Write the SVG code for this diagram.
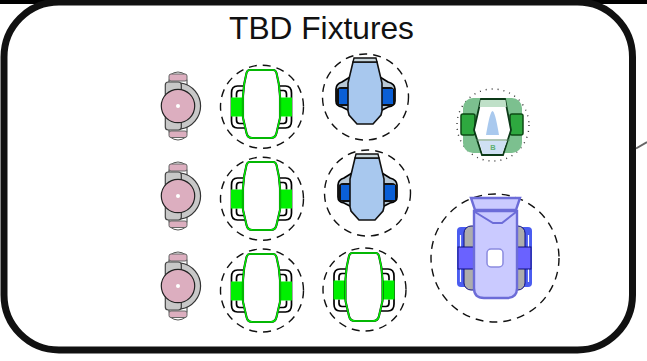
<svg xmlns="http://www.w3.org/2000/svg" width="647" height="361" viewBox="0 0 647 361">
<style>
text{font-family:"Liberation Sans",Arial,sans-serif;font-size:31.700px;fill:#111}
.d{fill:none;stroke:#111;stroke-width:1.4;stroke-dasharray:8 6}
.k{stroke:#000;stroke-width:1.700}
</style>
<defs>
<path id="gbody" d="M-12-34H12Q14-34 15-31Q18-20 18.500-8V14L15 29Q14 34 9 34H-9Q-14 34-15 29L-18.500 14V-8Q-18-20-15-31Q-14-34-12-34Z"/>
<g id="pink">
<path d="M-8-31Q0-37 8-31M-8 31Q0 37 8 31" fill="#fff" stroke="#555" stroke-width="1"/>
<rect x="-9" y="-26" width="18" height="52" fill="#fff" stroke="#333" stroke-width="1"/>
<rect x="-9" y="-32" width="18" height="7" rx="2" fill="#dcaebf" stroke="#666" stroke-width="1"/>
<rect x="-9" y="25" width="18" height="6.500" rx="2" fill="#dcaebf" stroke="#666" stroke-width="1"/>
<path d="M3-23A23.300 23.300 0 0 1 3 23Z" fill="#c8c8c8" stroke="#333" stroke-width="1.200"/>
<rect x="-12.700" y="-24" width="16" height="48" rx="3" fill="#c8c8c8" stroke="#444" stroke-width="1.200"/>
<circle r="16.700" fill="#dcaebf" stroke="#222" stroke-width="1.200"/>
<circle r="2" fill="#fff"/>
</g>
<g id="green">
<path d="M-17-18H-24Q-30-18-30-11V17Q-30 24-24 24H-14V-18Z" fill="#fff" class="k"/>
<path d="M17-18H24Q30-18 30-11V17Q30 24 24 24H14V-18Z" fill="#fff" class="k"/>
<path d="M-16-13.500H-22Q-25-13.500-25-10V-6.500M-25 12.500V16Q-25 19.500-22 19.500H-16" fill="none" class="k"/>
<path d="M16-13.500H22Q25-13.500 25-10V-6.500M25 12.500V16Q25 19.500 22 19.500H16" fill="none" class="k"/>
<rect x="-30.500" y="-6.500" width="61" height="19" fill="#00f000"/>
<use href="#gbody" fill="#fff" stroke="#111" stroke-width="2.100"/>
<use href="#gbody" fill="none" stroke="#00ee00" stroke-width="1.500"/>
</g>
<g id="blue">
<path d="M-23-15L-15-20V14L-23 10Q-29 9-29 4V-8Q-29-13-23-15Z" fill="#b9c9d6" class="k"/>
<path d="M23-15L15-20V14L23 10Q30 9 30 4V-8Q30-13 23-15Z" fill="#b9c9d6" class="k"/>
<rect x="-29" y="-10" width="59" height="19" rx="5" fill="#111"/>
<rect x="-26" y="-8" width="54" height="15" fill="#0a5fd6"/>
<path d="M-12-35H12L17-14V14L16 18L8 27H-8L-16 18L-17 14V-14Z" fill="#a8c8ee" stroke="#111" stroke-width="1.600"/>
<path d="M-12-35L-11-39H11L12-35Z" fill="#c8d6dc" stroke="#111" stroke-width="1.400"/>
</g>
</defs>
<g id="frame"><rect x="-30" y="-4" width="720" height="8" fill="#000"/><rect x="4" y="2" width="628.500" height="348" rx="55" ry="55" fill="#fff" stroke="#111" stroke-width="7"/></g>
<g id="connectors"><path d="M636 148.500L647 142" fill="none" stroke="#666" stroke-width="2"/></g>
<text id="title" x="321.500" y="38.500" text-anchor="middle">TBD Fixtures</text>
<g id="pink1"><use href="#pink" x="178" y="106"/></g>
<g id="pink2"><use href="#pink" x="178" y="196"/></g>
<g id="pink3"><use href="#pink" x="178" y="286"/></g>
<g id="green1"><circle class="d" cx="262" cy="106.700" r="41.500"/><use href="#green" x="261.500" y="104"/></g>
<g id="green2"><circle class="d" cx="262" cy="198.700" r="41.500"/><use href="#green" x="261.500" y="196"/></g>
<g id="green3"><circle class="d" cx="262" cy="290.500" r="41.500"/><use href="#green" x="261.500" y="288"/></g>
<g id="blue1"><circle class="d" cx="365.500" cy="97" r="43"/><use href="#blue" x="365" y="97"/></g>
<g id="blue2"><circle class="d" cx="367.500" cy="193" r="43"/><use href="#blue" x="367" y="193"/></g>
<g id="green4"><circle class="d" cx="364.500" cy="289.500" r="41.500"/><use href="#green" x="364" y="287"/></g>
<g id="teal">
<circle cx="493" cy="125" r="36" fill="none" stroke="#333" stroke-width="1.400" stroke-dasharray="1 5"/>
<rect x="463" y="98" width="59" height="55" rx="10" fill="#7cc08f"/>
<rect x="461" y="114" width="14" height="21" rx="2" fill="#2ea83f" stroke="#0c4a15" stroke-width="1.500"/>
<rect x="510" y="114" width="13" height="21" rx="2" fill="#2ea83f" stroke="#0c4a15" stroke-width="1.500"/>
<path d="M481 99H505L511 130L503 155H482L474 130Z" fill="#fff" stroke="#0c3a18" stroke-width="1.800"/>
<path d="M480.500 100H505.500L506.500 107H479.500Z" fill="#bfe0c8"/>
<path d="M476 140H510" stroke="#5a8a6a" stroke-width="1"/>
<path d="M479 141H507L502 154H483Z" fill="#cfe0f4"/>
<path d="M486 135Q490 111 492.500 111Q495 111 499 135Z" fill="#a9c9ee"/>
<text x="493" y="150" text-anchor="middle" style="font-size:7.500px;font-weight:bold;fill:#60b070">B</text>
</g>
<g id="violet">
<circle class="d" cx="495" cy="258" r="64"/>
<rect x="457" y="227" width="16" height="60" rx="4" fill="#4a5cf0"/>
<rect x="517" y="227" width="15" height="60" rx="4" fill="#4a5cf0"/>
<path d="M460.500 235V282M528.500 235V282" stroke="#fff" stroke-width="1.200"/>
<rect x="464" y="226" width="61" height="64" rx="7" fill="#adadad" stroke="#101080" stroke-width="1"/>
<rect x="458" y="247" width="73" height="22" fill="#6a62ff" stroke="#101080" stroke-width="1"/>
<path d="M474 211H517V288Q517 298 507 298H484Q474 298 474 288Z" fill="#cacaff" stroke="#6c6cd8" stroke-width="2.400"/>
<path d="M471 198H520L516 210H475Z" fill="#cacaff" stroke="#6c6cd8" stroke-width="2.400"/>
<path d="M475 212L493 223H502L516 212" fill="none" stroke="#6c6cd8" stroke-width="2"/>
<rect x="487" y="249" width="16" height="18" rx="4" fill="#fff" stroke="#8a8ae0" stroke-width="1.500"/>
</g>
</svg>
